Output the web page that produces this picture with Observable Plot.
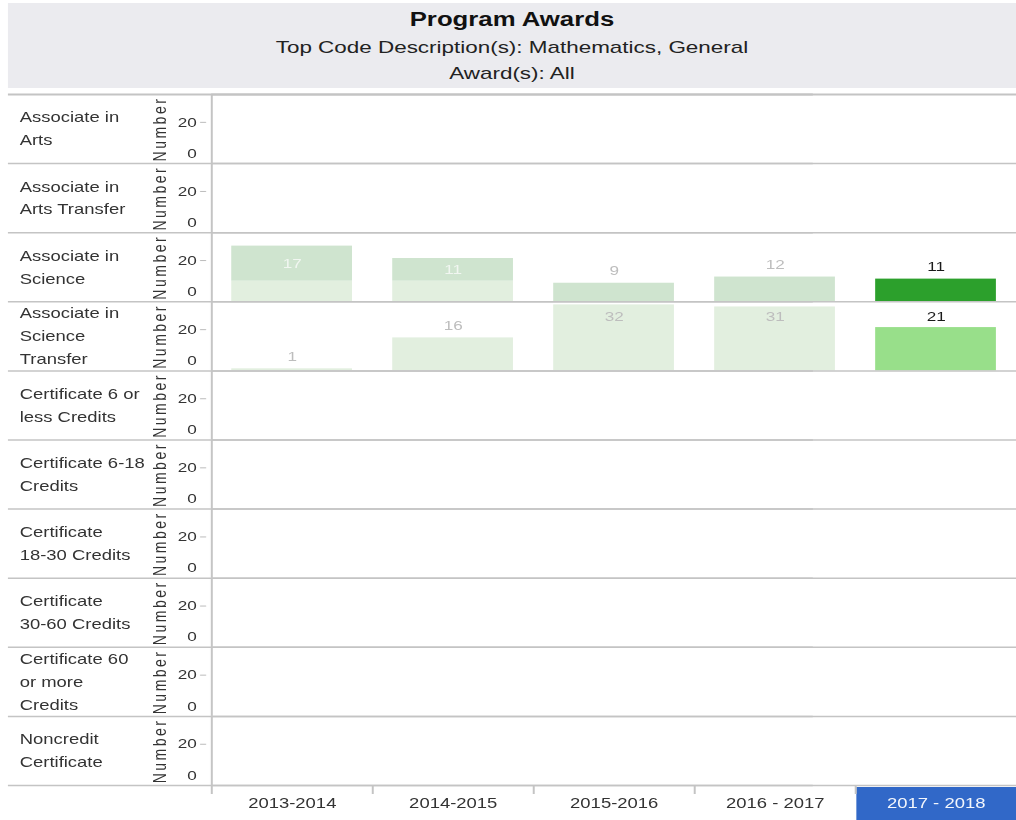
<!DOCTYPE html>
<html>
<head>
<meta charset="utf-8">
<script src="https://cdn.jsdelivr.net/npm/d3@7"></script>
<script src="https://cdn.jsdelivr.net/npm/@observablehq/plot@0.6"></script>
<style>
  body { margin: 0; background: #fff; }
  #wrap { width: 770px; transform: scaleX(1.3195); transform-origin: 0 0; font-family: "Liberation Sans", Arial, sans-serif; }
  #header { margin: 3px 0 0 6px; height: 85px; background: #ebebef; text-align: center; color: #1a1a1a; }
  #header .t { font-weight: bold; font-size: 19.5px; line-height: 27px; padding-top: 3px; color: #111; }
  #header .s { font-size: 17px; line-height: 26px; color: #222; }
  #header .s1 { margin-top: 2px; }
  #main { margin-top: 3px; }
  svg { display: block; }
  text[transform*="rotate"], text[aria-label="number-title"] { letter-spacing: 2.5px; }
</style>
</head>
<body>
<div id="wrap">
  <div id="header">
    <div class="t">Program Awards</div>
    <div class="s s1">Top Code Description(s): Mathematics, General</div>
    <div class="s">Award(s): All</div>
  </div>
  <div id="main"></div>
  <div id="axis"></div>
</div>
<script>
// ---- data ----
const years = ["2013-2014", "2014-2015", "2015-2016", "2016 - 2017", "2017 - 2018"];
const selectedYear = "2017 - 2018";
const awards = [
  "Associate in Arts",
  "Associate in Arts Transfer",
  "Associate in Science",
  "Associate in Science Transfer",
  "Certificate 6 or less Credits",
  "Certificate 6-18 Credits",
  "Certificate 18-30 Credits",
  "Certificate 30-60 Credits",
  "Certificate 60 or more Credits",
  "Noncredit Certificate"
];
const awardLabels = [
  "Associate in\nArts",
  "Associate in\nArts Transfer",
  "Associate in\nScience",
  "Associate in\nScience\nTransfer",
  "Certificate 6 or\nless Credits",
  "Certificate 6-18\nCredits",
  "Certificate\n18-30 Credits",
  "Certificate\n30-60 Credits",
  "Certificate 60\nor more\nCredits",
  "Noncredit\nCertificate"
];
const scienceValues = [17, 11, 9, 12, 11];
const scienceLowerValues = [10, 10, 0, 0, 0];
const transferValues = [1, 16, 32, 31, 21];
const yTicks = [0, 20];

// ---- derived table ----
const bars = [];
years.forEach((year, i) => {
  const low = scienceLowerValues[i];
  if (low > 0) bars.push({award: awards[2], year, y1: 0, y2: low, series: "transfer", value: low, labeled: false});
  bars.push({award: awards[2], year, y1: low, y2: low + scienceValues[i], series: "science", value: scienceValues[i], labeled: true});
  bars.push({award: awards[3], year, y1: 0, y2: transferValues[i], series: "transfer", value: transferValues[i], labeled: true});
});
const palette = {
  science: {on: "#2ca02c", off: "#cfe4cf"},
  transfer: {on: "#98df8a", off: "#e2efdf"}
};
const labelMap = new Map(awards.map((a, i) => [a, awardLabels[i]]));
const lineColor = "#c4c4c4";
const W = 770, ML = 160;
const halfStep = (W - ML) / years.length / 2;
const yMax = 33.5;
const fontFamily = "'Liberation Sans', Arial, sans-serif";

const labelY = d => d.y1 > 0 ? (d.y1 + d.y2) / 2 : Math.min(d.y2 + 6, 26);
const labelFill = d => d.year === selectedYear ? "#1a1a1a" : (d.y1 > 0 ? "#f1f6f1" : "#bdbdbd");

const main = Plot.plot({
  width: W, height: 695,
  marginTop: 3, marginBottom: 1, marginLeft: ML, marginRight: 0,
  style: {fontFamily, fontSize: "13px", color: "#333", background: "transparent", overflow: "visible"},
  x: {domain: years, paddingInner: 0.25, paddingOuter: 0.125, round: false, axis: null},
  y: {domain: [0, yMax]},
  fy: {domain: awards, padding: 0, round: false, axis: null},
  marks: [
    Plot.barY(bars, {
      x: "year", y1: "y1", y2: "y2", fy: "award",
      fill: d => palette[d.series][d.year === selectedYear ? "on" : "off"]
    }),
    Plot.text(bars.filter(d => d.labeled), {
      x: "year", y: labelY, fy: "award", text: d => String(d.value),
      fill: labelFill, fontSize: 13
    }),
    // row separators (inside frame and extended into the left label column)
    Plot.ruleY(awards, {fy: d => d, y: () => 0, stroke: lineColor, strokeWidth: 1.5}),
    Plot.ruleY(awards, {fy: d => d, y: () => 0, stroke: lineColor, strokeWidth: 1.5, dx: -(ML - 6)}),
    Plot.ruleY([awards[0]], {fy: d => d, y: () => yMax, stroke: lineColor, strokeWidth: 1.8}),
    Plot.ruleY([awards[0]], {fy: d => d, y: () => yMax, stroke: lineColor, strokeWidth: 1.8, dx: -(ML - 6)}),
    // left edge of the pane
    Plot.ruleX(awards, {fy: d => d, x: () => years[0], dx: -halfStep, stroke: lineColor, strokeWidth: 1.5}),
    // y axes
    Plot.axisY({ticks: [yTicks[1]], tickSize: 4.6, tickPadding: 3, dx: -3.8, label: null, stroke: "#bbb", fill: "#333", fontSize: 13}),
    Plot.axisY({ticks: [yTicks[0]], tickSize: 0, tickPadding: 11.4, dy: -10, label: null, fill: "#333", fontSize: 13}),
    // axis title per row
    Plot.text(awards, {fy: d => d, text: () => "Number", frameAnchor: "left", textAnchor: "middle", rotate: -90, dx: -39, fontSize: 14, fill: "#333", ariaLabel: () => "number-title"}),
    // row headers
    Plot.text(awards, {fy: d => d, text: d => labelMap.get(d), frameAnchor: "left", textAnchor: "start", dx: -(ML - 14.4), dy: -2.5, fontSize: 14, lineHeight: 1.64, fill: "#333"})
  ]
});
document.getElementById("main").append(main);

const axis = Plot.plot({
  width: W, height: 34,
  marginTop: 0, marginBottom: 0, marginLeft: ML, marginRight: 0,
  style: {fontFamily, fontSize: "14px", color: "#333", background: "transparent", overflow: "visible"},
  x: {domain: years, padding: 0, round: false, axis: null},
  marks: [
    Plot.cell([selectedYear], {x: d => d, fill: "#3168c8", insetLeft: 1, insetTop: 1}),
    Plot.text(years, {x: d => d, text: d => d, frameAnchor: "middle", fontSize: 14, fill: d => d === selectedYear ? "#f3f6fc" : "#333"}),
    Plot.ruleX(years, {x: d => d, dx: -halfStep, insetBottom: 26, stroke: lineColor, strokeWidth: 1.5})
  ]
});
document.getElementById("axis").append(axis);
</script>
</body>
</html>
